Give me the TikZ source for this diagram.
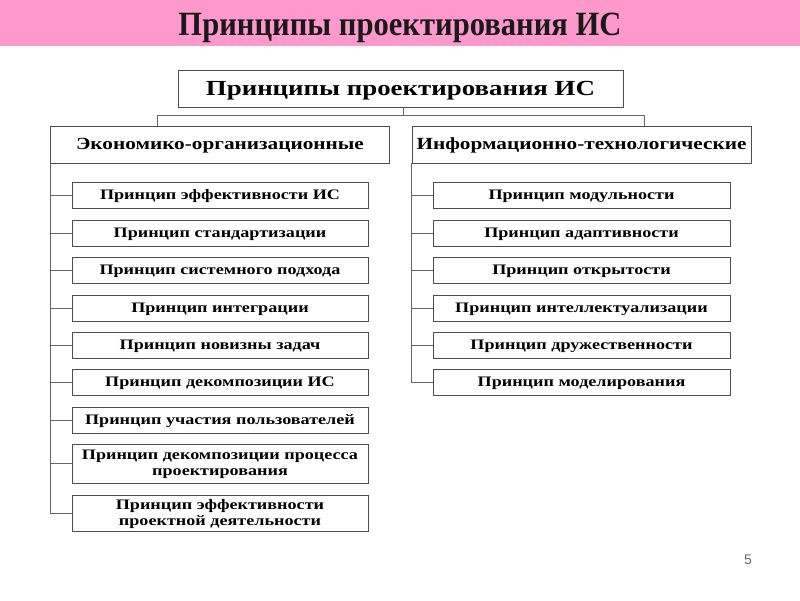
\documentclass[tikz,border=0pt]{standalone}
\usepackage{fontspec}
\setmainfont{Liberation Serif}
\setsansfont{Liberation Sans}
\newfontfamily\widefont[FakeStretch=1.25]{Liberation Serif}
\newfontfamily\narrowfont[FakeStretch=0.9]{Liberation Serif}
\usetikzlibrary{positioning}
\definecolor{banner}{HTML}{FF99CC}
\tikzset{
	heading/.style={draw=black!70, line width=0.9pt, minimum width=445pt, minimum height=37pt, inner sep=0pt, text depth=1pt, font=\widefont\bfseries\fontsize{21.5}{24}\selectfont},
	group/.style={draw=black!70, line width=0.9pt, minimum width=339pt, minimum height=37pt, inner sep=0pt, text depth=1pt, font=\widefont\bfseries\fontsize{17}{20}\selectfont},
	principle/.style={draw=black!70, line width=0.9pt, minimum width=296pt, minimum height=26pt, inner sep=0pt, align=center, text depth=1pt, font=\widefont\bfseries\fontsize{14.5}{16}\selectfont},
	link/.style={draw=black!60, line width=0.8pt}
}

\begin{document}
\begin{tikzpicture}[x=1pt, y=-1pt]
			\useasboundingbox (0,0) rectangle (800,600);
			% banner
			\fill[banner] (0,0) rectangle (800,46);
			\node[font=\narrowfont\bfseries\fontsize{34}{38}\selectfont, text=black!90, text depth=2pt] (title) at (400,25) {Принципы проектирования ИС};
			
			% main boxes
			\node[heading] (top) at (400.5,88.5) {Принципы проектирования ИС};
			\node[group] (econ) at (220,144.5) {Экономико-организационные};
			\node[group] (tech) at (581.5,144.5) {Информационно-технологические};
			
			% economic principles
			\node[principle] (e1) at (220,195) {Принцип эффективности ИС};
			\node[principle] (e2) at (220,233) {Принцип стандартизации};
			\node[principle] (e3) at (220,270) {Принцип системного подхода};
			\node[principle] (e4) at (220,308) {Принцип интеграции};
			\node[principle] (e5) at (220,345) {Принцип новизны задач};
			\node[principle] (e6) at (220,382) {Принцип декомпозиции ИС};
			\node[principle] (e7) at (220,420) {Принцип участия пользователей};
			\node[principle, minimum height=39pt] (e8) at (220,463.5) {Принцип декомпозиции процесса\\проектирования};
			\node[principle, minimum height=36pt] (e9) at (220,513) {Принцип эффективности\\проектной деятельности};
			
			% technological principles
			\node[principle, minimum width=297pt] (t1) at (581.5,195.5) {Принцип модульности};
			\node[principle, minimum width=297pt] (t2) at (581.5,233) {Принцип адаптивности};
			\node[principle, minimum width=297pt] (t3) at (581.5,270) {Принцип открытости};
			\node[principle, minimum width=297pt] (t4) at (581.5,308) {Принцип интеллектуализации};
			\node[principle, minimum width=297pt] (t5) at (581.5,345) {Принцип дружественности};
			\node[principle, minimum width=297pt] (t6) at (581.5,382.5) {Принцип моделирования};
			
			% page number
			\node[font=\sffamily\fontsize{14}{16}\selectfont, text=black!60] (page) at (748,560) {5};
			
			% connectors
			\coordinate (fork) at (403,115);
			\coordinate (lbend) at (157,115);
			\coordinate (rbend) at (644,115);
			\draw[link] (fork |- top.south) -- (fork);
			\draw[link] (lbend |- econ.north) -- (lbend) -- (rbend) -- (rbend |- tech.north);
			\draw[link] (econ.south west) -- (econ.south west |- e9.west);
			\draw[link] (tech.south west) -- (tech.south west |- t6.west);
			\foreach \i in {1,...,9}
				\draw[link] (econ.south west |- e\i.west) -- (e\i.west);
			\foreach \i in {1,...,6}
				\draw[link] (tech.south west |- t\i.west) -- (t\i.west);
		\end{tikzpicture}
\end{document}
